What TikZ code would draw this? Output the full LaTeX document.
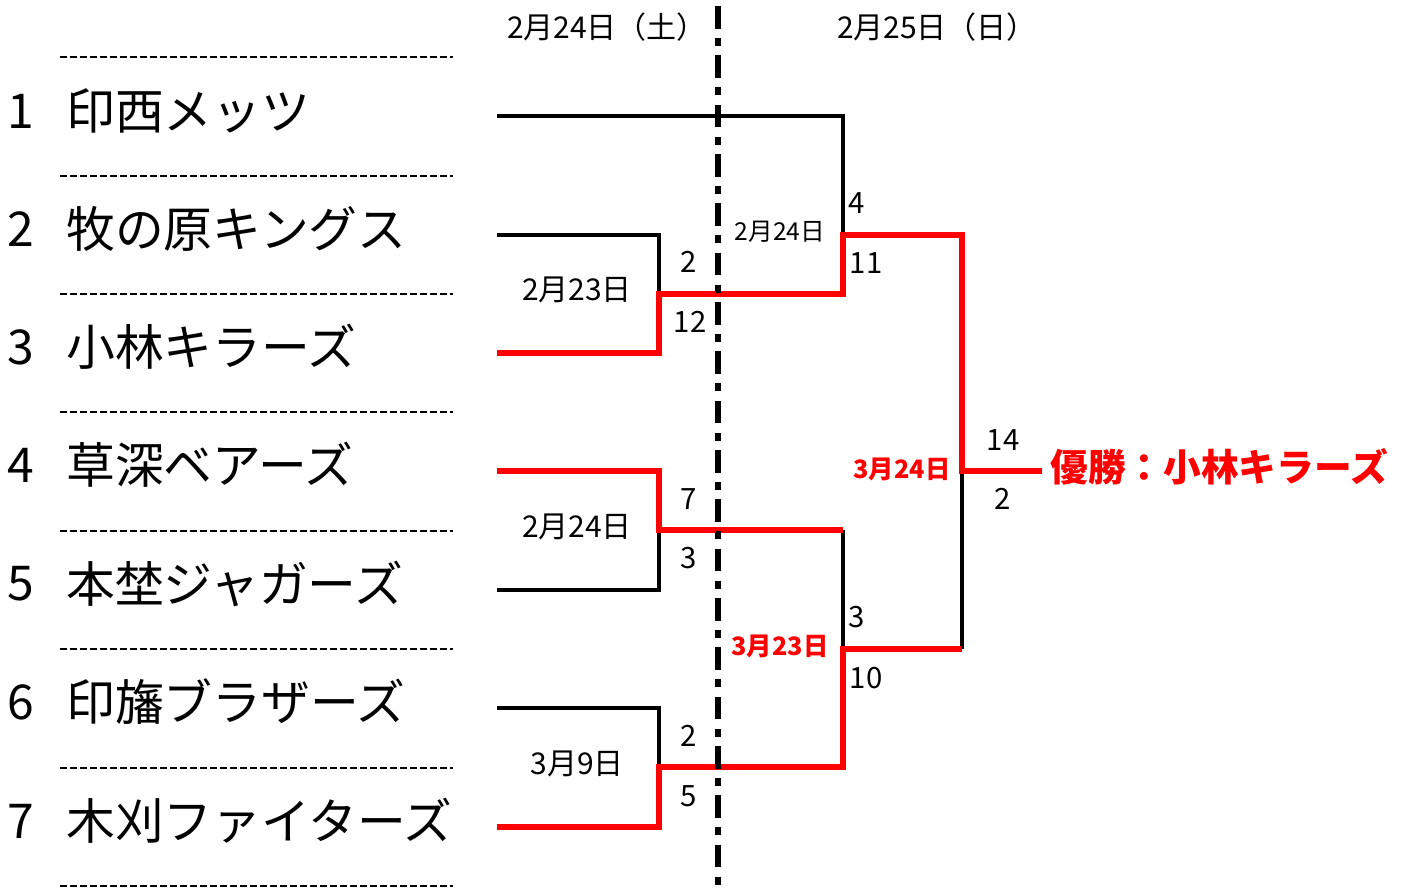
\documentclass[tikz,border=0pt]{standalone}
\usepackage{fontspec}
\setmainfont{Noto Sans CJK JP}
\begin{document}
\begin{tikzpicture}[x=0.75pt,y=-0.75pt,
  team/.style={anchor=west,inner sep=0,font=\fontsize{36.6}{40}\selectfont},
  num/.style={inner sep=0,font=\fontsize{36}{40}\selectfont},
  score/.style={inner sep=0,font=\fontsize{22}{24}\selectfont},
  date/.style={inner sep=0,font=\fontsize{22.5}{24}\selectfont},
  sdate/.style={inner sep=0,font=\fontsize{18.5}{20}\selectfont},
  rdate/.style={inner sep=0,text=red,font=\bfseries\fontsize{19}{20}\selectfont},
  champ/.style={anchor=west,inner sep=0,text=red,font=\bfseries\fontsize{28.3}{30}\selectfont},
  sep/.style={line width=1.5pt,dash pattern=on 5.25pt off 2.25pt},
  blk/.style={line width=2.3pt},
  win/.style={red,line width=4.5pt,line join=miter},
  vline/.style={line width=3.8pt,dash pattern=on 17pt off 7pt on 6pt off 7pt}
]
\useasboundingbox (0,0) rectangle (1403,889);
% separators
\foreach \y [count=\i] in {57,176,294,412,531,649,768,886}{
  \coordinate (l\i) at (60,\y);
  \coordinate (r\i) at (453,\y);
  \draw[sep] (l\i) -- (r\i);
}
% team labels
\foreach \n/\t/\y in {1/印西メッツ/111,2/牧の原キングス/229,3/小林キラーズ/347,4/草深ベアーズ/465,5/本埜ジャガーズ/584,6/印旛ブラザーズ/702,7/木刈ファイターズ/821}{
  \node[num] (n\n) at (21,\y) {\n};
  \node[team] (t\n) at (66,\y) {\t};
}
% headers
\node[date] (h1) at (607,27) {2月24日（土）};
\node[date] (h2) at (937,27) {2月25日（日）};
% bracket points
\coordinate (s1) at (497,116);
\coordinate (s2) at (497,235);
\coordinate (s3) at (497,353);
\coordinate (s4) at (497,471);
\coordinate (s5) at (497,590);
\coordinate (s6) at (497,708);
\coordinate (s7) at (497,827);
\coordinate (a23) at (659,294);
\coordinate (a45) at (659,530);
\coordinate (a67) at (659,767);
\coordinate (b1) at (843,235);
\coordinate (b2) at (843,649);
\coordinate (c) at (962,471);
\coordinate (fin) at (1042,471);
% black lines
\draw[blk] (s1) -| (b1);
\draw[blk] (s2) -| (a23);
\draw[blk] (s5) -| (a45);
\draw[blk] (s6) -| (a67);
\draw[blk] (a45 -| b2) -- (b2);
\draw[blk] (b2 -| c) -- (c);
% winner lines
\draw[win] (s3) -| (a23) -| (b1) -| (c) -- (fin);
\draw[win] (s4) -| (a45) -- (a45 -| b2);
\draw[win] (s7) -| (a67) -| (b2) -- (b2 -| c);
% vertical day divider
\coordinate (vt) at (718,6);
\coordinate (vb) at (718,886);
\draw[vline] (vt) -- (vb);
% scores
\node[score] (p1) at (857,203) {4};
\node[score] (p2) at (866,263) {11};
\node[score] (p3) at (689,262) {2};
\node[score] (p4) at (690,322) {12};
\node[score] (p5) at (689,499) {7};
\node[score] (p6) at (689,558) {3};
\node[score] (p7) at (857,617) {3};
\node[score] (p8) at (866,678) {10};
\node[score] (p9) at (689,736) {2};
\node[score] (p10) at (689,796) {5};
\node[score] (p11) at (1003,440) {14};
\node[score] (p12) at (1003,499) {2};
% dates
\node[date] (d1) at (577,290) {2月23日};
\node[date] (d2) at (577,527) {2月24日};
\node[date] (d3) at (577,764) {3月9日};
\node[sdate] (d4) at (780,232) {2月24日};
\node[rdate] (d5) at (780,646) {3月23日};
\node[rdate] (d6) at (902,469) {3月24日};
\node[champ] (w) at (1050,467) {優勝：小林キラーズ};
\end{tikzpicture}
\end{document}
